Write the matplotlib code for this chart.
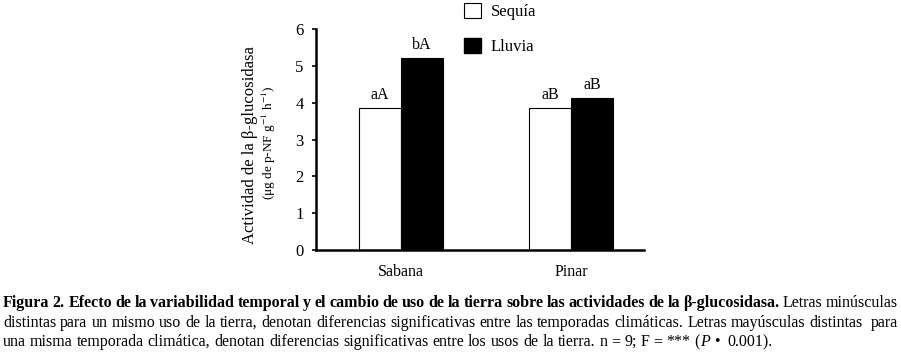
"""Figura 2 - actividad de la beta-glucosidasa por uso de la tierra y temporada."""

import matplotlib
matplotlib.use("Agg")
import matplotlib.pyplot as plt
from matplotlib.patches import Patch

plt.rcParams["font.family"] = ["Liberation Serif", "DejaVu Serif"]
plt.rcParams["mathtext.fontset"] = "stix"

# data
usos = ["Sabana", "Pinar"]
sequia = [3.86, 3.86]
lluvia = [5.22, 4.13]
letras_sequia = ["aA", "aB"]
letras_lluvia = ["bA", "aB"]
yticks = [0, 1, 2, 3, 4, 5, 6]

# caption fragments: (text, style); a fragment not starting with a space is glued to the previous one
caption_lines = [
    [("Figura 2. Efecto de la variabilidad temporal y el cambio de uso de la tierra "
      "sobre las actividades de la β-glucosidasa.", "bold"),
     (" Letras minúsculas", "normal")],
    [("distintas para un mismo uso de la tierra, denotan diferencias significativas "
      "entre las temporadas climáticas. Letras mayúsculas distintas  para", "normal")],
    [("una misma temporada climática, denotan diferencias significativas entre los "
      "usos de la tierra. n = 9; F = *** (", "normal"),
     ("P", "italic"), (" •  0.001).", "normal")],
]

W, H = 901, 353
fig = plt.figure(figsize=(W / 100, H / 100), dpi=100)
ax = fig.add_axes([316 / W, 1 - 250 / H, (644 - 316) / W, (250 - 29) / H])

x = list(range(len(usos)))
bw = 0.247
b1 = ax.bar([i - bw / 2 for i in x], sequia, bw, color="white",
            edgecolor="black", linewidth=0.8, label="Sequía")
b2 = ax.bar([i + bw / 2 for i in x], lluvia, bw, color="black",
            edgecolor="black", linewidth=0.8, label="Lluvia")
for bars, labs in ((b1, letras_sequia), (b2, letras_lluvia)):
    for r, t in zip(bars, labs):
        ax.text(r.get_x() + r.get_width() / 2, r.get_height() + 0.12, t,
                ha="center", va="bottom", fontsize=11.5)

ax.set_xlim(-0.5, 1.43)
ax.set_ylim(0, 6)
ax.set_yticks(yticks)
ax.set_xticks(x)
ax.set_xticklabels(usos, fontsize=11.5)
ax.tick_params(axis="y", direction="out", length=3, width=1.2, labelsize=12, pad=6)
ax.tick_params(axis="x", length=0, pad=10)
for s in ("top", "right"):
    ax.spines[s].set_visible(False)
for s in ("left", "bottom"):
    ax.spines[s].set_linewidth(1.8)

fig.text(250 / W, 1 - 145 / H, "Actividad de la β-glucosidasa", rotation=90,
         ha="center", va="center", fontsize=12)
fig.text(269 / W, 1 - 143 / H, r"(μg de p-NF g$^{-1}$ h$^{-1}$)", rotation=90,
         ha="center", va="center", fontsize=9.5)

handles = [Patch(facecolor="white", edgecolor="black", linewidth=0.8, label="Sequía"),
           Patch(facecolor="black", edgecolor="black", label="Lluvia")]
fig.legend(handles=handles, loc="upper left", bbox_to_anchor=(464 / W, 1 - 3 / H),
           frameon=False, fontsize=12, handlelength=1.0, handleheight=1.0,
           handletextpad=0.6, labelspacing=1.05, borderpad=0, borderaxespad=0)

# caption, justified word by word
renderer = fig.canvas.get_renderer()


def words_of(line):
    # each entry: [word, style, number of spaces before it]
    out = []
    for txt, style in line:
        parts = txt.split(" ")
        gap = 0
        for k, w in enumerate(parts):
            if k > 0:
                gap += 1
            if w == "":
                continue
            out.append([w, style, gap if out else 0])
            gap = 0
    return out


def measure(word, style, size):
    t = fig.text(0, 0, word, fontsize=size,
                 fontweight="bold" if style == "bold" else "normal",
                 fontstyle="italic" if style == "italic" else "normal")
    w = t.get_window_extent(renderer).width
    t.remove()
    return w


size0 = 10.0
last = words_of(caption_lines[2])
sp0 = measure("a a", "normal", size0) - 2 * measure("a", "normal", size0)
nat = sum(measure(w, s, size0) for w, s, g in last) + sp0 * sum(g for _, _, g in last)
fsize = size0 * (773 - 3) / nat

left, right = 3, 898
baselines = [307, 327, 346]
for li, line in enumerate(caption_lines):
    ws = words_of(line)
    widths = [measure(w, s, fsize) for w, s, g in ws]
    gaps = [g for _, _, g in ws]
    sp = measure("a a", "normal", fsize) - 2 * measure("a", "normal", fsize)
    if li < 2:
        sp = (right - left - sum(widths)) / max(sum(gaps), 1)
    xpos = left
    for i, (w, s, g) in enumerate(ws):
        xpos += sp * gaps[i]
        fig.text(xpos / W, 1 - baselines[li] / H, w, fontsize=fsize, va="baseline",
                 fontweight="bold" if s == "bold" else "normal",
                 fontstyle="italic" if s == "italic" else "normal")
        xpos += widths[i]

fig.savefig("out.png", dpi=100)
